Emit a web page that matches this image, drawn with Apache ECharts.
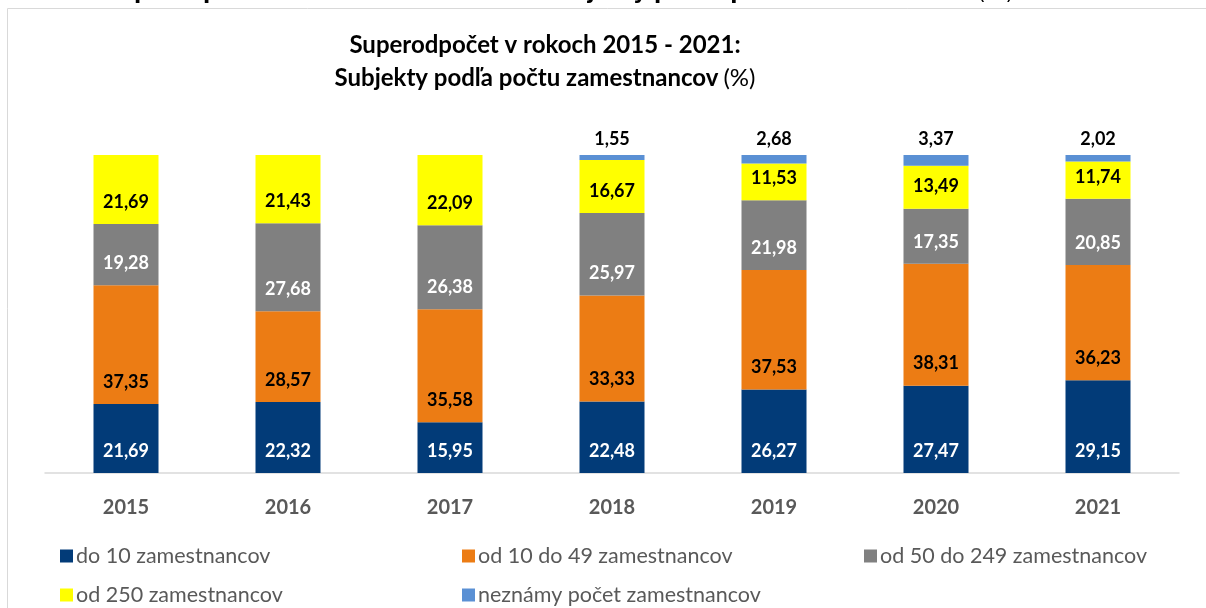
<!DOCTYPE html>
<html>
<head>
<meta charset="utf-8">
<title>Superodpočet v rokoch 2015 - 2021</title>
<script src="https://cdn.jsdelivr.net/npm/echarts@6/dist/echarts.min.js"></script>
<style>
  html, body { margin: 0; padding: 0; background: #fff; }
  #main { width: 1206px; height: 608px; }
</style>
</head>
<body>
<div id="main"></div>
<script>
    // roky
    var years = ['2015', '2016', '2017', '2018', '2019', '2020', '2021'];
    // podiel subjektov (%) podľa počtu zamestnancov
    var do10 = [21.69, 22.32, 15.95, 22.48, 26.27, 27.47, 29.15];
    var od10do49 = [37.35, 28.57, 35.58, 33.33, 37.53, 38.31, 36.23];
    var od50do249 = [19.28, 27.68, 26.38, 25.97, 21.98, 17.35, 20.85];
    var od250 = [21.69, 21.43, 22.09, 16.67, 11.53, 13.49, 11.74];
    var neznamy = [null, null, null, 1.55, 2.68, 3.37, 2.02];

    var seriesNames = ['do 10 zamestnancov', 'od 10 do 49 zamestnancov', 'od 50 do 249 zamestnancov',
        'od 250 zamestnancov', 'neznámy počet zamestnancov'];
    var colors = ['#023B78', '#EC7C14', '#808080', '#FFFF00', '#5A90D4'];

    var font = 'Lato, "Open Sans", sans-serif';
    var myChart = echarts.init(document.getElementById('main'));

    function fmt(p) {
        return p.value == null ? '' : p.value.toFixed(2).replace('.', ',');
    }

    function barSeries(idx, data, labelColor, pos) {
        return {
            name: seriesNames[idx],
            type: 'bar',
            stack: 'spolu',
            barWidth: 65,
            data: data,
            itemStyle: { color: colors[idx] },
            label: {
                show: true,
                position: pos || 'insideBottom',
                distance: pos ? 7 : 13,
                formatter: fmt,
                color: labelColor,
                fontFamily: font,
                fontWeight: 'bold',
                fontSize: 18
            }
        };
    }

    function legendItem(idx, left, top) {
        return {
            data: [seriesNames[idx]],
            left: left,
            top: top,
            icon: 'rect',
            itemWidth: 13,
            itemHeight: 13,
            itemGap: 0,
            selectedMode: false,
            textStyle: { color: '#595959', fontFamily: font, fontSize: 21.5, padding: [0, 0, 0, -2] }
        };
    }

    var option = {
        animation: false,
        color: colors,
        graphic: [
            {
                type: 'rect',
                shape: { x: 7.5, y: 8.5, width: 1210, height: 620 },
                style: { fill: 'none', stroke: '#d9d9d9', lineWidth: 1 }
            },
            {
                type: 'text',
                left: 0,
                top: -17,
                style: {
                    text: '{r|Graf č. 1: }{b|Superodpočet v rokoch 2015 – 2021: Subjekty podľa počtu zamestnancov} {r|(%)}',
                    rich: {
                        r: { fontFamily: '"DejaVu Sans", Verdana, sans-serif', fontSize: 21, fill: '#000' },
                        b: { fontFamily: '"DejaVu Sans", Verdana, sans-serif', fontSize: 21, fontWeight: 'bold', fill: '#000' }
                    }
                }
            }
        ],
        title: {
            left: 540,
            top: 24,
            textAlign: 'center',
            text: '{b|Superodpočet v rokoch 2015 - 2021:}\n{b|Subjekty podľa počtu zamestnancov} {r|(%)}',
            textStyle: {
                rich: {
                    b: { fontFamily: font, fontWeight: 'bold', fontSize: 24, color: '#000', lineHeight: 33 },
                    r: { fontFamily: font, fontWeight: 'normal', fontSize: 24, color: '#000', lineHeight: 33 }
                }
            }
        },
        legend: [
            legendItem(0, 55, 540),
            legendItem(1, 457, 540),
            legendItem(2, 859, 540),
            legendItem(3, 55, 579),
            legendItem(4, 457, 579)
        ],
        grid: {
            left: 45,
            right: 27,
            top: 155,
            bottom: 135
        },
        xAxis: {
            type: 'category',
            data: years,
            axisLine: { lineStyle: { color: '#d9d9d9', width: 1.5 } },
            axisTick: { show: false },
            axisLabel: {
                color: '#595959',
                fontFamily: font,
                fontWeight: 'bold',
                fontSize: 20,
                margin: 25
            }
        },
        yAxis: {
            type: 'value',
            min: 0,
            max: 100,
            show: false,
            splitLine: { show: false }
        },
        series: [
            barSeries(0, do10, '#fff'),
            barSeries(1, od10do49, '#000'),
            barSeries(2, od50do249, '#fff'),
            barSeries(3, od250, '#000'),
            barSeries(4, neznamy, '#000', 'top')
        ]
    };

    myChart.setOption(option);
</script>
</body>
</html>
